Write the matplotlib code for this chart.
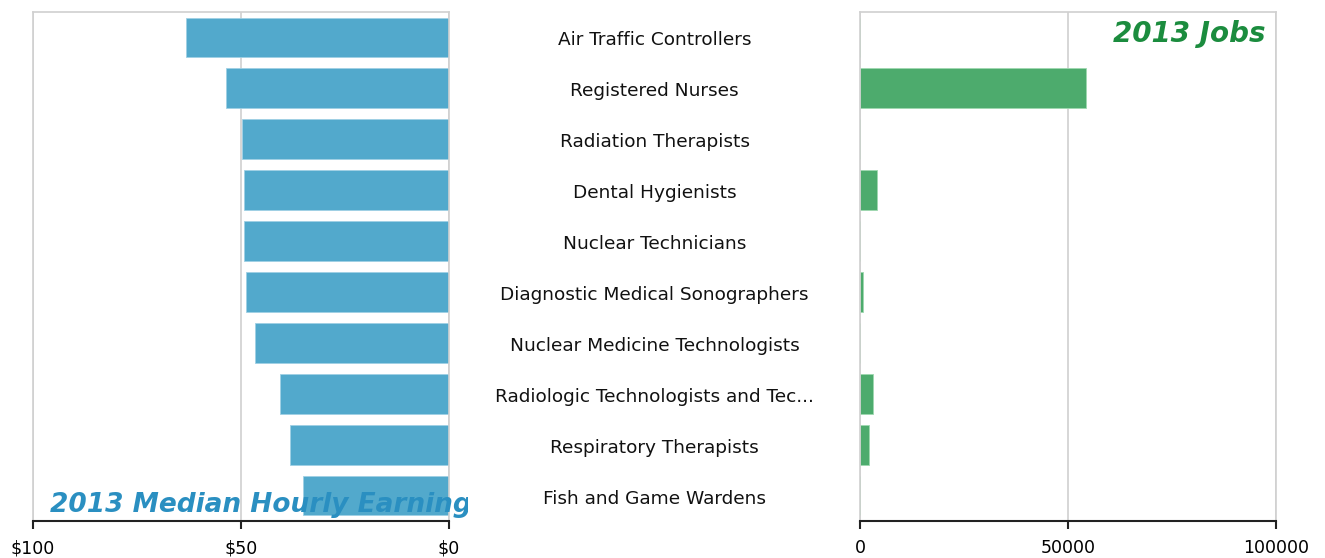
import numpy as np
import matplotlib.pyplot as plt
from matplotlib.transforms import Bbox, TransformedBbox, blended_transform_factory, offset_copy

plt.rcParams['font.family'] = ['DejaVu Sans']

occupations = ['Air Traffic Controllers', 'Registered Nurses', 'Radiation Therapists',
               'Dental Hygienists', 'Nuclear Technicians', 'Diagnostic Medical Sonographers',
               'Nuclear Medicine Technologists', 'Radiologic Technologists and Tec...',
               'Respiratory Therapists', 'Fish and Game Wardens']
hourly = [63.2, 53.6, 49.8, 49.3, 49.3, 48.8, 46.6, 40.6, 38.2, 35.1]
jobs = [0, 54300, 0, 4100, 0, 700, 0, 3100, 2200, 0]

earn_ticks = [100, 50, 0]
earn_labels = ['$100', '$50', '$0']
job_ticks = [0, 50000, 100000]

blue = '#52a9cc'
green = '#4dab6d'
grid_c = '#d0d0d0'

fig = plt.figure(figsize=(13.25, 5.58), dpi=100)
y = np.arange(len(occupations))

ax1 = fig.add_axes([33/1325, 37/558, 416/1325, 509/558])
ax2 = fig.add_axes([860/1325, 37/558, 416/1325, 509/558])

ax1.barh(y, hourly, height=0.78, color=blue, edgecolor='#9fd0e4', lw=0.6, zorder=2)
ax1.set_xlim(100, 0)
ax1.set_xticks(earn_ticks)
ax1.set_xticklabels(earn_labels)

ax2.barh(y, jobs, height=0.78, color=green, edgecolor='#9fd8b0', lw=0.6, zorder=2)
ax2.set_xlim(0, 100000)
ax2.set_xticks(job_ticks)
ax2.set_xticklabels([str(t) for t in job_ticks])

for ax in (ax1, ax2):
    ax.set_ylim(len(occupations) - 0.5, -0.5)
    ax.set_yticks([])
    ax.grid(axis='x', color=grid_c, lw=1.2, zorder=1)
    ax.set_axisbelow(True)
    for s in ('top', 'left', 'right'):
        ax.spines[s].set_color(grid_c)
        ax.spines[s].set_linewidth(1.2)
    ax.spines['bottom'].set_color('#222222')
    ax.spines['bottom'].set_linewidth(1.5)
    ax.tick_params(axis='x', length=6, width=1.5, color='#222222', labelsize=12.5, pad=7)

# occupation names centred between the panels
mid = offset_copy(blended_transform_factory(fig.transFigure, ax1.transData), fig=fig, x=0, y=-3, units='dots')
for i, name in enumerate(occupations):
    ax1.text(654.5/1325, i, name, transform=mid, ha='center', va='center',
             fontsize=13.3, color='#111111')

t1 = ax1.text(0.041, 0.018, '2013 Median Hourly Earnings', transform=ax1.transAxes,
              fontsize=19, fontweight='bold', style='italic',
              color='#2a8fc1', ha='left', va='baseline', zorder=5, clip_on=True)
t1.set_clip_box(TransformedBbox(Bbox([[0, 0], [468/1325, 1]]), fig.transFigure))

ax2.text(0.974, 0.985, '2013 Jobs', transform=ax2.transAxes,
         fontsize=20, fontweight='bold', style='italic',
         color='#1b8c3e', ha='right', va='top', zorder=5)

fig.savefig('out.png', dpi=100)
